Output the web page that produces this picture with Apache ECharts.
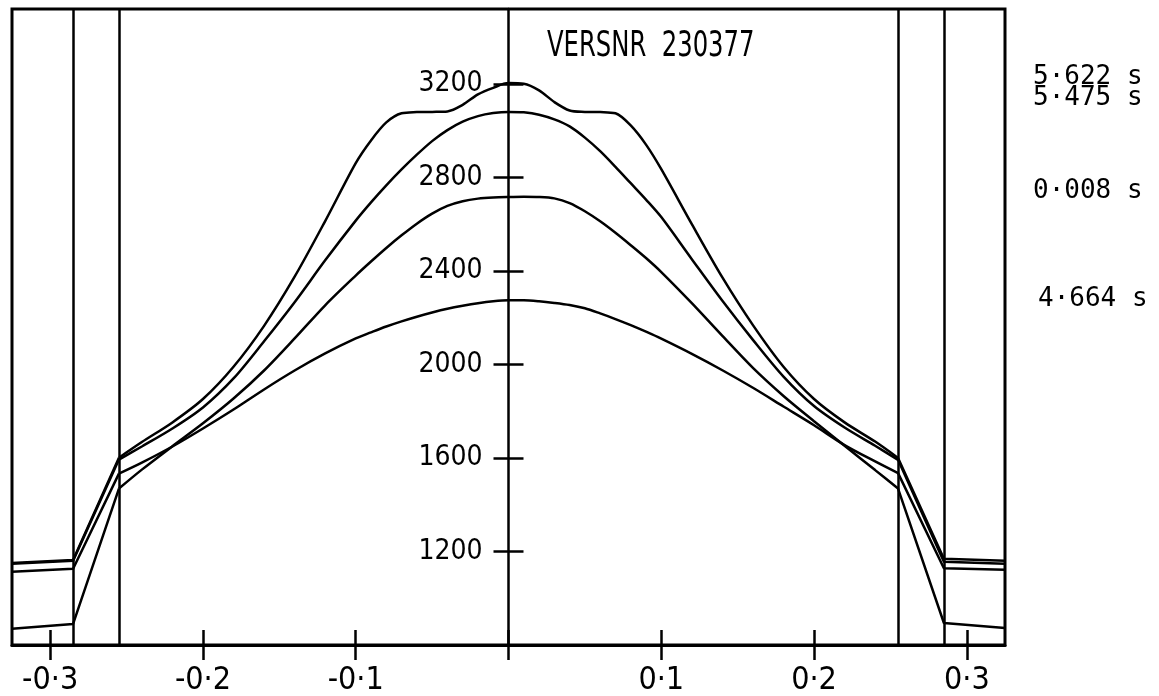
<!DOCTYPE html>
<html>
<head>
<meta charset="utf-8">
<script src="https://cdn.jsdelivr.net/npm/echarts@6/dist/echarts.min.js"></script>
<style>
  html, body { margin: 0; padding: 0; background: #fff; }
  #chart { width: 1159px; height: 696px; }
</style>
</head>
<body>
<div id="chart"></div>
<script>
// Radial positions (m) of the smooth central part of each profile
const X_INNER = [-0.255, -0.24, -0.22, -0.20, -0.18, -0.16, -0.14, -0.12, -0.10, -0.09,
  -0.08, -0.07, -0.06, -0.05, -0.04, -0.03, -0.02, -0.01, 0, 0.01, 0.02, 0.03, 0.04,
  0.05, 0.06, 0.07, 0.08, 0.09, 0.10, 0.12, 0.14, 0.16, 0.18, 0.20, 0.22, 0.24, 0.255];
// Positions of the wall zones on each side
const X_EDGE_LEFT = [-0.325, -0.285, -0.255];
const X_EDGE_RIGHT = [0.255, 0.285, 0.325];
const ZONE_BOUNDS = [-0.285, -0.255, 0.255, 0.285];

const X_TICKS = [-0.3, -0.2, -0.1, 0, 0.1, 0.2, 0.3];
const X_LABELS = [-0.3, -0.2, -0.1, 0.1, 0.2, 0.3];
const Y_TICKS = [1200, 1600, 2000, 2400, 2800, 3200];

const TITLE = 'VERSNR  230377';
const RUN_TIMES = ['5·622 s', '5·475 s', '0·008 s', '4·664 s'];

// Profiles, central part
const PROFILE_5622 = [1601, 1668, 1752, 1852, 1990, 2165, 2375, 2613, 2861, 2958,
  3035, 3074, 3079, 3080, 3082, 3110, 3155, 3183, 3203, 3200, 3172, 3122, 3086,
  3080, 3079, 3074, 3022, 2940, 2835, 2600, 2372, 2168, 1990, 1852, 1752, 1670, 1600];
const PROFILE_5475 = [1593, 1649, 1726, 1816, 1940, 2099, 2266, 2445, 2615, 2693,
  2766, 2834, 2897, 2955, 3002, 3038, 3062, 3075, 3080, 3078, 3068, 3048, 3018,
  2970, 2912, 2845, 2775, 2705, 2630, 2450, 2272, 2105, 1948, 1822, 1730, 1652, 1592];
const PROFILE_0008 = [1469, 1550, 1650, 1748, 1854, 1974, 2111, 2253, 2380, 2440,
  2498, 2552, 2602, 2645, 2678, 2698, 2709, 2714, 2716, 2717, 2716, 2710, 2690,
  2655, 2612, 2563, 2510, 2455, 2395, 2262, 2122, 1985, 1865, 1757, 1652, 1548, 1469];
const PROFILE_4664 = [1533, 1580, 1649, 1726, 1807, 1893, 1974, 2047, 2111, 2137,
  2162, 2184, 2204, 2222, 2238, 2251, 2262, 2270, 2274, 2274, 2270, 2263, 2254,
  2240, 2218, 2194, 2168, 2140, 2110, 2045, 1975, 1900, 1820, 1740, 1655, 1585, 1535];

// Profiles through the wall zones
const EDGE_LEFT_5622 = [1151, 1164, 1601];
const EDGE_RIGHT_5622 = [1600, 1169, 1160];
const EDGE_LEFT_5475 = [1147, 1160, 1593];
const EDGE_RIGHT_5475 = [1592, 1156, 1147];
const EDGE_LEFT_0008 = [869, 890, 1469];
const EDGE_RIGHT_0008 = [1469, 894, 873];
const EDGE_LEFT_4664 = [1113, 1126, 1533];
const EDGE_RIGHT_4664 = [1535, 1128, 1122];

const PROFILES = [
  { inner: PROFILE_5622, left: EDGE_LEFT_5622, right: EDGE_RIGHT_5622 },
  { inner: PROFILE_5475, left: EDGE_LEFT_5475, right: EDGE_RIGHT_5475 },
  { inner: PROFILE_0008, left: EDGE_LEFT_0008, right: EDGE_RIGHT_0008 },
  { inner: PROFILE_4664, left: EDGE_LEFT_4664, right: EDGE_RIGHT_4664 }
];

const zip = (xs, ys) => xs.map((x, i) => [x, ys[i]]);
const INK = '#000';
const LABEL_FONT = '"DejaVu Sans Condensed", "DejaVu Sans", sans-serif';
const MONO_FONT = '"DejaVu Sans Mono", "Liberation Mono", monospace';

const fmtX = v => (v < 0 ? '-' : '') + '0·' + Math.round(Math.abs(v) * 10);
const fmtY = v => String(v);

const lineStyle = { color: INK, width: 2.5 };
const series = [];
PROFILES.forEach((p, i) => {
  series.push({
    type: 'line', name: RUN_TIMES[i], xAxisIndex: 0, yAxisIndex: 0,
    data: zip(X_INNER, p.inner), smooth: 0.3, showSymbol: false,
    lineStyle, silent: true
  });
  series.push({
    type: 'line', xAxisIndex: 0, yAxisIndex: 0,
    data: zip(X_EDGE_LEFT, p.left), showSymbol: false, lineStyle, silent: true
  });
  series.push({
    type: 'line', xAxisIndex: 0, yAxisIndex: 0,
    data: zip(X_EDGE_RIGHT, p.right), showSymbol: false, lineStyle, silent: true
  });
});
// Wall zone boundaries
series[0].markLine = {
  silent: true, symbol: 'none', precision: 3, label: { show: false },
  lineStyle: { color: INK, width: 2.5, type: 'solid' },
  data: ZONE_BOUNDS.map(x => ({ xAxis: x }))
};

// Plot frame; the vertical axis sits at r = 0, in the middle of the frame
const gridRect = { left: 12, top: 9, width: 993, height: 636 };
const centreOffset = -gridRect.width / 2;
const xBase = { type: 'value', min: -0.325, max: 0.325, splitLine: { show: false } };
const yBase = { type: 'value', min: 800, max: 3520, position: 'left', offset: centreOffset, splitLine: { show: false } };
const tickStyle = { color: INK, width: 2.5 };

const chart = echarts.init(document.getElementById('chart'), null, { renderer: 'canvas' });
chart.setOption({
  animation: false,
  backgroundColor: '#fff',
  grid: [
    Object.assign({ show: true, borderColor: INK, borderWidth: 3, backgroundColor: 'transparent',
      containLabel: false, outerBoundsMode: 'none' }, gridRect),
    Object.assign({ show: false, containLabel: false, outerBoundsMode: 'none' }, gridRect)
  ],
  xAxis: [
    Object.assign({}, xBase, {
      gridIndex: 0,
      axisLine: { show: true, onZero: false, lineStyle: { color: INK, width: 3 } },
      axisTick: { show: true, customValues: X_TICKS, length: 15, lineStyle: tickStyle },
      axisLabel: { customValues: X_LABELS, formatter: fmtX, color: INK, fontFamily: LABEL_FONT, fontSize: 32, margin: 20 }
    }),
    Object.assign({}, xBase, {
      gridIndex: 1,
      axisLine: { show: false, onZero: false },
      axisTick: { show: true, inside: true, customValues: X_TICKS, length: 15, lineStyle: tickStyle },
      axisLabel: { show: false }
    })
  ],
  yAxis: [
    Object.assign({}, yBase, {
      gridIndex: 0,
      axisLine: { show: true, onZero: false, lineStyle: { color: INK, width: 2.5 } },
      axisTick: { show: true, customValues: Y_TICKS, length: 15, lineStyle: tickStyle },
      axisLabel: { customValues: Y_TICKS, formatter: fmtY, color: INK, fontFamily: LABEL_FONT, fontSize: 28, margin: 26 }
    }),
    Object.assign({}, yBase, {
      gridIndex: 1,
      axisLine: { show: false, onZero: false },
      axisTick: { show: true, inside: true, customValues: Y_TICKS, length: 15, lineStyle: tickStyle },
      axisLabel: { show: false }
    })
  ],
  graphic: [
    { type: 'text', x: 547, y: 47, scaleX: 0.75, style: { text: TITLE, fill: INK, font: '36px ' + LABEL_FONT, textVerticalAlign: 'middle' } },
    { type: 'text', x: 1033, y: 77, style: { text: RUN_TIMES[0], fill: INK, font: '26px ' + MONO_FONT, textVerticalAlign: 'middle' } },
    { type: 'text', x: 1033, y: 98, style: { text: RUN_TIMES[1], fill: INK, font: '26px ' + MONO_FONT, textVerticalAlign: 'middle' } },
    { type: 'text', x: 1033, y: 191, style: { text: RUN_TIMES[2], fill: INK, font: '26px ' + MONO_FONT, textVerticalAlign: 'middle' } },
    { type: 'text', x: 1038, y: 299, style: { text: RUN_TIMES[3], fill: INK, font: '26px ' + MONO_FONT, textVerticalAlign: 'middle' } }
  ],
  series
});
</script>
</body>
</html>
